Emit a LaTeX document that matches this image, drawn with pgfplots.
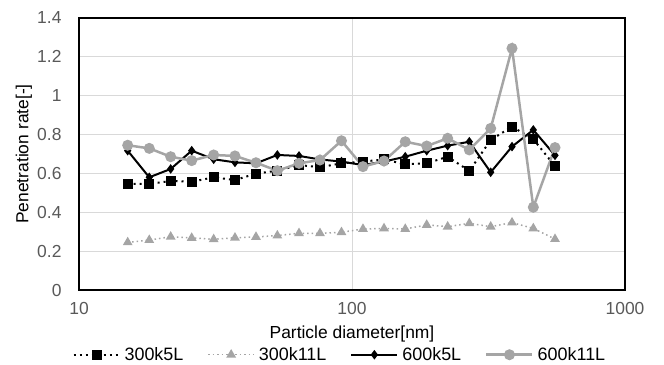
\documentclass[border=0pt]{standalone}
\usepackage{pgfplots}
\pgfplotsset{compat=1.18}
\usepackage{pgfplotstable}
\usepackage{fontspec}
\setmainfont{Liberation Sans}
\definecolor{tickgray}{HTML}{595959}
\definecolor{gridgray}{HTML}{D9D9D9}
\definecolor{sergray}{HTML}{A5A5A5}
\pgfplotstableread{
x a b c d
15.08 0.546 0.245 0.717 0.745
18.09 0.546 0.257 0.580 0.729
21.67 0.561 0.274 0.623 0.686
25.87 0.557 0.268 0.717 0.666
31.14 0.580 0.261 0.673 0.695
37.27 0.566 0.269 0.657 0.690
44.49 0.599 0.273 0.652 0.655
53.27 0.614 0.280 0.695 0.614
63.96 0.643 0.292 0.690 0.652
76.35 0.632 0.292 0.672 0.669
91.51 0.652 0.297 0.661 0.768
109.7 0.661 0.314 0.643 0.635
131.0 0.672 0.317 0.661 0.664
156.7 0.647 0.314 0.686 0.763
187.8 0.652 0.335 0.717 0.741
224.1 0.686 0.326 0.743 0.781
269.0 0.613 0.343 0.763 0.721
322.2 0.772 0.326 0.606 0.832
385.6 0.841 0.347 0.738 1.244
461.5 0.776 0.317 0.824 0.426
554.1 0.638 0.262 0.693 0.733
}\datatable
\newcommand\chartfont{\fontsize{17.5}{20}\selectfont}
\newcommand\legfont{\fontsize{18}{20}\selectfont}
\begin{document}
\begin{tikzpicture}
\useasboundingbox (0,0) rectangle (664bp,365bp);
\begin{axis}[
  at={(79bp,75bp)}, anchor=south west,
  scale only axis, width=546bp, height=272bp,
  xmode=log, log basis x=10,
  xmin=10, xmax=1000, ymin=0, ymax=1.4,
  xtick={10,100,1000}, xticklabels={10,100,1000},
  ytick={0,0.2,0.4,0.6,0.8,1,1.2,1.4},
  yticklabels={0,0.2,0.4,0.6,0.8,1,1.2,1.4},
  minor xtick={},
  grid=major,
  major grid style={gridgray, line width=1bp},
  axis line style={black, line width=1.2bp},
  tick style={draw=none},
  ticklabel style={font=\chartfont, text=tickgray},
  /pgf/number format/assume math mode=true,
  xticklabel style={anchor=center, yshift=-18bp, inner sep=0pt},
  yticklabel style={anchor=east, xshift=-14bp},
  xlabel={Particle diameter[nm]},
  ylabel={Penetration rate[-]},
  every axis x label/.style={at={(axis description cs:0.5,-0.132)}, anchor=north, inner sep=0pt, font=\chartfont},
  every axis y label/.style={at={(axis description cs:-0.101,0.5)}, rotate=90, anchor=center, font=\chartfont},
  legend columns=4,
  legend style={at={(axis description cs:0.476,-0.238)}, anchor=center, draw=none, fill=none,
    font=\legfont, inner sep=0pt,
    nodes={inner xsep=0pt, inner ysep=1bp},
    /tikz/every even column/.append style={column sep=24bp},
    /tikz/every odd column/.append style={column sep=4bp}},
  legend cell align=left,
  legend image code/.code={\draw[mark repeat=2,mark phase=2,#1] plot coordinates {(0bp,0bp) (23bp,0bp) (46bp,0bp)};},
  clip=false,
]
\addplot[black, line width=2bp, dash pattern=on 2bp off 4bp, mark=square*, mark size=4bp, mark options={solid}] table[x=x,y=a]{\datatable};
\addlegendentry{300k5L}
\addplot[sergray, line width=1.5bp, dash pattern=on 1.5bp off 3bp, mark=triangle*, mark size=4.2bp, mark options={solid}] table[x=x,y=b]{\datatable};
\addlegendentry{300k11L}
\addplot[black, line width=2bp, mark=diamond*, mark size=3.2bp] table[x=x,y=c]{\datatable};
\addlegendentry{600k5L}
\addplot[sergray, line width=2.5bp, mark=*, mark size=4.2bp] table[x=x,y=d]{\datatable};
\addlegendentry{600k11L}
\end{axis}
\end{tikzpicture}
\end{document}
